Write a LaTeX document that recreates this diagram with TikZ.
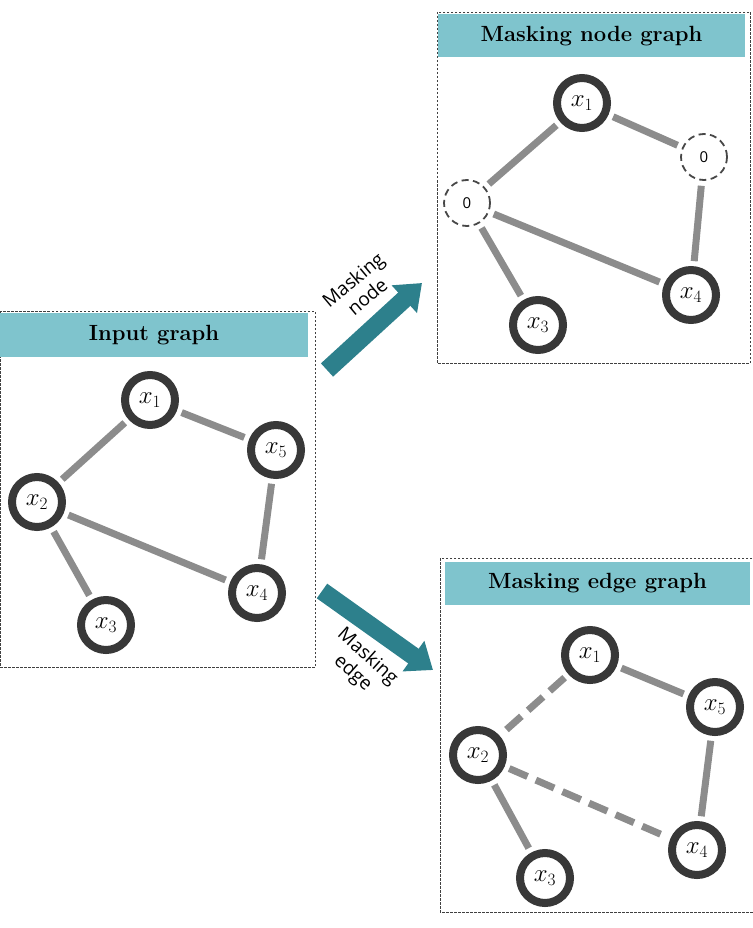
\documentclass[tikz,border=0pt]{standalone}
\usepackage{amsmath}
\usepackage{fontspec}
\newfontfamily\labelfont{Open Sans}
\usetikzlibrary{arrows.meta}
\definecolor{barteal}{RGB}{127,196,205}
\definecolor{arrowteal}{RGB}{45,128,140}

\begin{document}
\begin{tikzpicture}[x=1pt,y=-1pt,
        gnode/.style={circle, draw=black!78, line width=8pt, fill=white, minimum size=50pt, inner sep=0pt, font=\fontsize{24}{26}\selectfont},
        maskednode/.style={circle, draw=black!72, line width=1.8pt, dash pattern=on 7pt off 4.5pt, fill=white, minimum size=46pt, inner sep=0pt, font=\labelfont\fontsize{15}{17}\selectfont},
        gedge/.style={draw=black!45, line width=7pt, shorten <=5pt, shorten >=5pt},
        maskededge/.style={gedge, dash pattern=on 20pt off 9pt},
        titlebar/.style={fill=barteal, draw=none, inner sep=0pt, font=\bfseries\fontsize{22}{24}\selectfont},
        framebox/.style={draw=black!75, line width=0.7pt, dash pattern=on 2.5pt off 1.5pt},
        bigarrow/.style={draw=arrowteal, line width=18pt, -{Triangle[width=36pt, length=24pt]}},
        arrowlabel/.style={font=\labelfont\fontsize{19}{22}\selectfont, align=center, inner sep=0pt}]
        \useasboundingbox (0,0) rectangle (752,928);

        % Input graph
        \draw[framebox] (0,311) rectangle (315,667);
        \node[titlebar, minimum width=308pt, minimum height=44pt] (intitle) at (154,335) {Input graph};
        \node[gnode] (in1) at (150,400) {$x_1$};
        \node[gnode] (in5) at (276,450) {$x_5$};
        \node[gnode] (in2) at (37,502) {$x_2$};
        \node[gnode] (in4) at (257,593) {$x_4$};
        \node[gnode] (in3) at (106,625) {$x_3$};
        \draw[gedge] (in1) -- (in2);
        \draw[gedge] (in1) -- (in5);
        \draw[gedge] (in2) -- (in4);
        \draw[gedge] (in2) -- (in3);
        \draw[gedge] (in5) -- (in4);

        % Masking node graph
        \draw[framebox] (437,12) rectangle (750,363);
        \node[titlebar, minimum width=307pt, minimum height=43pt] (mntitle) at (591.5,36) {Masking node graph};
        \node[gnode] (mn1) at (582,103) {$x_1$};
        \node[maskednode] (mn5) at (704,157) {0};
        \node[maskednode] (mn2) at (467,203) {0};
        \node[gnode] (mn4) at (691,295) {$x_4$};
        \node[gnode] (mn3) at (538,325) {$x_3$};
        \draw[gedge] (mn1) -- (mn2);
        \draw[gedge] (mn1) -- (mn5);
        \draw[gedge] (mn2) -- (mn4);
        \draw[gedge] (mn2) -- (mn3);
        \draw[gedge] (mn5) -- (mn4);

        % Masking edge graph
        \draw[framebox] (440,558) rectangle (756,912);
        \node[titlebar, minimum width=305pt, minimum height=43pt] (metitle) at (597.5,583.5) {Masking edge graph};
        \node[gnode] (me1) at (590,655) {$x_1$};
        \node[gnode] (me5) at (715,707) {$x_5$};
        \node[gnode] (me2) at (478,755) {$x_2$};
        \node[gnode] (me4) at (697,850) {$x_4$};
        \node[gnode] (me3) at (545,878) {$x_3$};
        \draw[maskededge] (me1) -- (me2);
        \draw[gedge] (me1) -- (me5);
        \draw[maskededge] (me2) -- (me4);
        \draw[gedge] (me2) -- (me3);
        \draw[gedge] (me5) -- (me4);

        % Arrows between the graphs
        \coordinate (up0) at (327,370);
        \coordinate (up1) at (422,283);
        \coordinate (down0) at (322,591);
        \coordinate (down1) at (433,670);
        \draw[bigarrow] (up0) -- (up1);
        \draw[bigarrow] (down0) -- (down1);
        \node[arrowlabel, rotate=40] (uplabel) at (360,288) {Masking\\node};
        \node[arrowlabel, rotate=-42] (downlabel) at (360,665) {Masking\\edge};
\end{tikzpicture}
\end{document}
